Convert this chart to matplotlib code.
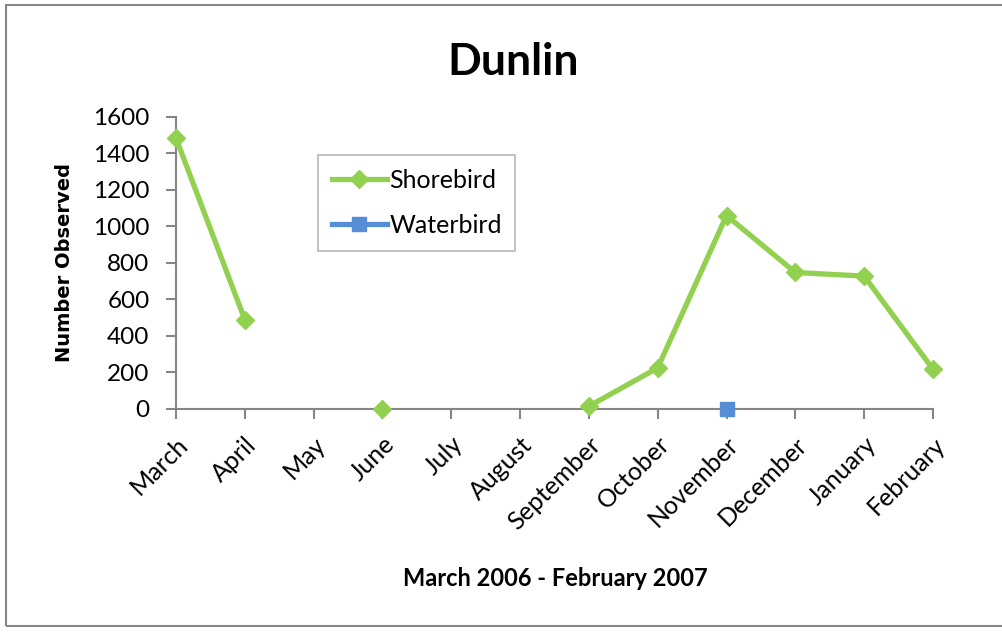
import numpy as np
import matplotlib
matplotlib.use("Agg")
import matplotlib.pyplot as plt
from matplotlib.patches import Rectangle

plt.rcParams['font.family'] = ['Lato', 'DejaVu Sans']

months = ["March", "April", "May", "June", "July", "August", "September",
          "October", "November", "December", "January", "February"]
# nan = no survey count for that month
shorebird = [1485, 490, np.nan, 0, np.nan, np.nan, 15, 225, 1060, 748, 728, 218]
waterbird = [np.nan, np.nan, np.nan, np.nan, np.nan, np.nan, np.nan, np.nan, 0,
             np.nan, np.nan, np.nan]
yticks = [0, 200, 400, 600, 800, 1000, 1200, 1400, 1600]

GREEN = "#92D050"
BLUE = "#558ED5"
GREY = "#868686"

fig = plt.figure(figsize=(10.02, 6.34), dpi=100)
ax = fig.add_axes([0.1756, 0.3549, 0.7555, 0.4606])

x = np.arange(len(months))
ax.plot(x, shorebird, color=GREEN, lw=3.8, marker="D", ms=9.5,
        mec=GREEN, mfc=GREEN, label="Shorebird", clip_on=False, zorder=3)
ax.plot(x, waterbird, color=BLUE, lw=3.8, marker="s", ms=9.5,
        mec=BLUE, mfc=BLUE, label="Waterbird", clip_on=False, zorder=3)

ax.set_xlim(0, len(months) - 1)
ax.set_ylim(0, 1600)
ax.set_yticks(yticks)
ax.set_yticklabels([str(v) for v in yticks], fontsize=17.5)
ax.set_xticks(x)
ax.set_xticklabels(months, rotation=45, ha="right", rotation_mode="anchor",
                   fontsize=18)

for side in ("top", "right"):
    ax.spines[side].set_visible(False)
for side in ("left", "bottom"):
    ax.spines[side].set_color(GREY)
    ax.spines[side].set_linewidth(1.5)
ax.tick_params(axis="both", direction="out", length=7, width=1.5, color=GREY)
ax.tick_params(axis="y", pad=12)
ax.tick_params(axis="x", pad=10)

fig.text(0.512, 0.902, "Dunlin", fontsize=32, fontweight="bold",
         ha="center", va="center")
ax.set_ylabel("Number Observed", fontsize=14, fontweight="bold",
              family="DejaVu Sans", labelpad=14)
fig.text(0.554, 0.087, "March 2006 - February 2007", fontsize=17,
         fontweight="bold", ha="center", va="center")

leg = ax.legend(loc="upper left", bbox_to_anchor=(0.1876, 0.87), fontsize=18,
                frameon=True, fancybox=False, borderpad=0.55, labelspacing=0.9,
                handlelength=2.2, handletextpad=0.1, borderaxespad=0)
leg.get_frame().set_edgecolor("#A6A6A6")
leg.get_frame().set_linewidth(1.2)

# chart area border
fig.patches.append(Rectangle((0.006, 0.012), 1.05, 0.98, transform=fig.transFigure,
                             fill=False, edgecolor=GREY, lw=1.5))

fig.savefig("out.png", dpi=100)
